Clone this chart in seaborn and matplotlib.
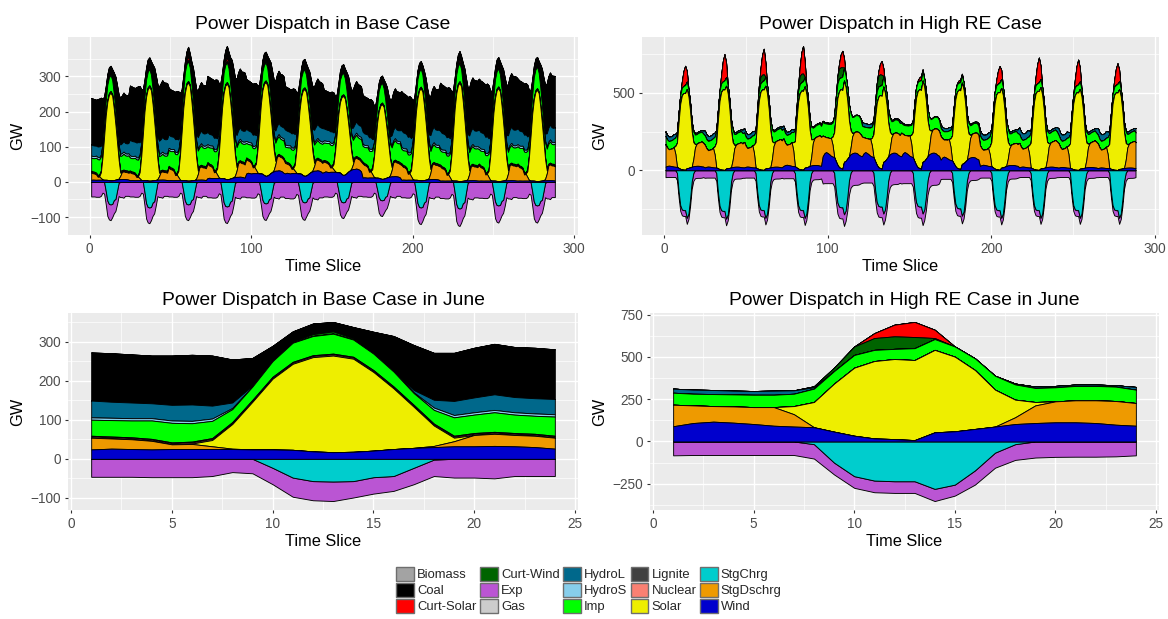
import numpy as np
import pandas as pd
import matplotlib
matplotlib.use("Agg")
import matplotlib.pyplot as plt
from matplotlib.patches import Patch
from matplotlib.ticker import FixedLocator
import seaborn as sns

# ---------------------------------------------------------------- categories
technologies = ["Biomass", "Coal", "Curt-Solar", "Curt-Wind", "Exp", "Gas",
                "HydroL", "HydroS", "Imp", "Lignite", "Nuclear", "Solar",
                "StgChrg", "StgDschrg", "Wind"]
tech_colors = ["#A3A3A3", "#000000", "#FF0000", "#006400", "#BA55D3", "#CCCCCC",
               "#00688B", "#87CEEB", "#00FF00", "#404040", "#FA8072", "#EEEE00",
               "#00CDCD", "#EE9A00", "#0000CD"]

hours = list(range(1, 25))

# ------------------------------------------------ Base case, June (GW by hour)
base_wind = [24, 26, 25, 24, 25, 25, 25, 25, 24, 24, 23, 19, 17, 18, 21, 25, 28, 30, 32, 32, 33, 32, 30, 26]
base_stgdschrg = [30, 26, 25, 22, 12, 13, 7, 1, 0, 0, 0, 0, 0, 0, 0, 0, 0, 3, 13, 29, 31, 29, 29, 28]
base_solar = [0, 0, 0, 0, 0, 1, 16, 63, 122, 181, 220, 241, 247, 238, 201, 155, 105, 52, 9, 0, 0, 0, 0, 0]
base_nuclear = [3, 3, 3, 3, 3, 3, 3, 3, 3, 3, 3, 3, 3, 3, 3, 3, 3, 3, 3, 3, 3, 3, 3, 3]
base_lignite = [2, 2, 2, 2, 2, 2, 2, 2, 2, 2, 2, 2, 2, 2, 2, 2, 2, 2, 2, 2, 2, 2, 2, 2]
base_imp = [41, 42, 43, 47, 50, 47, 44, 33, 34, 40, 49, 49, 51, 44, 42, 38, 30, 35, 47, 47, 50, 47, 46, 49]
base_hydros = [6, 6, 6, 6, 6, 6, 6, 3, 0, 0, 0, 0, 0, 0, 0, 0, 2, 6, 6, 6, 6, 6, 6, 6]
base_hydrol = [43, 41, 40, 38, 40, 42, 33, 14, 2, 0, 0, 0, 0, 0, 0, 0, 6, 20, 36, 38, 40, 39, 39, 39]
base_curt_wind = [0, 0, 0, 0, 0, 0, 0, 0, 0, 0, 2, 5, 6, 3, 0, 0, 0, 0, 0, 0, 0, 0, 0, 0]
base_curt_solar = [0, 0, 0, 0, 0, 0, 0, 0, 0, 0, 0, 0, 0, 0, 0, 0, 0, 0, 0, 0, 0, 0, 0, 0]
base_coal = [123, 124, 123, 122, 126, 127, 128, 110, 71, 39, 27, 27, 24, 29, 56, 91, 115, 120, 123, 127, 129, 128, 129, 127]
base_exp = [-46, -46, -46, -47, -47, -47, -44, -34, -37, -42, -49, -49, -50, -42, -42, -38, -42, -42, -48, -48, -50, -44, -44, -44]
base_stgchrg = [0, 0, 0, 0, 0, 0, 0, 0, 0, -23, -48, -57, -58, -57, -47, -44, -23, -2, 0, 0, 0, 0, 0, 0]

# midday solar curtailment on a typical spring / autumn day, Base case
base_curt_solar_day = [0, 0, 0, 0, 0, 0, 0, 0, 0, 0, 0, 3, 8, 5, 0, 0, 0, 0, 0, 0, 0, 0, 0, 0]

# --------------------------------------------- High RE case, June (GW by hour)
re_wind = [90, 109, 117, 111, 103, 93, 88, 84, 58, 34, 18, 14, 8, 54, 60, 74, 88, 103, 109, 113, 113, 109, 99, 93]
re_stgdschrg = [127, 104, 92, 96, 100, 110, 73, 0, 0, 0, 0, 0, 0, 0, 0, 0, 0, 40, 104, 124, 130, 134, 140, 134]
re_solar = [0, 0, 0, 0, 0, 0, 48, 149, 284, 402, 457, 473, 473, 487, 441, 348, 218, 104, 20, 0, 0, 0, 0, 0]
re_imp = [71, 69, 71, 71, 73, 73, 73, 79, 74, 75, 66, 60, 70, 64, 60, 69, 82, 90, 83, 83, 85, 85, 85, 79]
re_hydrol = [24, 24, 24, 22, 22, 24, 20, 8, 0, 0, 0, 0, 0, 0, 0, 0, 0, 5, 8, 8, 8, 8, 8, 16]
re_curt_wind = [0, 0, 0, 0, 0, 0, 0, 6, 20, 50, 70, 74, 66, 6, 0, 0, 0, 0, 0, 0, 0, 0, 0, 0]
re_curt_solar = [0, 0, 0, 0, 0, 0, 0, 0, 0, 0, 29, 69, 89, 49, 0, 0, 0, 0, 0, 0, 0, 0, 0, 0]
re_exp = [-82, -80, -80, -80, -80, -80, -80, -85, -70, -69, -69, -69, -69, -72, -65, -84, -89, -93, -95, -91, -90, -90, -88, -82]
re_stgchrg = [0, 0, 0, 0, 0, 0, 0, -16, -125, -205, -231, -235, -235, -280, -255, -171, -66, -16, 0, 0, 0, 0, 0, 0]

# ------------------------------ month-to-month level relative to June (Jan..Dec)
base_month_solar = [1.01, 1.08, 1.13, 1.10, 1.08, 1.00, 0.91, 0.86, 1.06, 1.13, 1.07, 1.05]
base_month_coal = [1.07, 1.25, 1.07, 1.30, 1.15, 1.00, 0.89, 0.85, 0.90, 1.11, 1.18, 1.15]
base_month_imp = [0.90, 0.90, 1.10, 1.10, 1.00, 1.00, 1.20, 1.10, 1.00, 1.00, 1.00, 1.20]
base_month_hydrol = [0.75, 1.05, 0.90, 0.80, 0.80, 1.00, 0.80, 0.80, 1.10, 1.15, 1.15, 1.05]
base_month_stgdschrg = [0.70, 0.75, 1.20, 1.35, 1.35, 1.00, 1.00, 1.35, 1.40, 1.35, 1.45, 1.45]
base_month_wind = [0.25, 0.20, 0.20, 0.45, 1.00, 1.00, 1.15, 0.50, 0.25, 0.15, 0.15, 0.15]
base_month_exp = [0.90, 0.90, 0.90, 0.95, 0.95, 1.00, 0.90, 0.90, 0.95, 1.00, 0.98, 0.98]
base_month_stgchrg = [1.10, 1.25, 1.10, 1.20, 1.05, 1.00, 1.00, 0.90, 1.25, 1.30, 1.15, 1.15]
base_month_curt_wind = [0.0, 0.0, 0.5, 0.5, 0.5, 1.0, 0.5, 0.0, 0.0, 0.0, 0.0, 0.0]
base_month_curt_solar = [0.0, 0.4, 1.5, 1.5, 0.0, 0.0, 0.0, 0.0, 0.0, 1.0, 0.5, 0.0]

re_month_solar = [1.05, 1.10, 1.10, 1.08, 1.08, 1.00, 1.08, 1.08, 1.06, 1.08, 1.06, 1.06]
re_month_curt_solar = [1.40, 1.90, 1.85, 2.00, 1.20, 1.00, 0.30, 0.20, 1.20, 1.80, 1.80, 1.50]
re_month_curt_wind = [0.0, 0.0, 0.60, 0.75, 0.90, 1.00, 0.0, 0.0, 0.0, 0.0, 0.0, 0.0]
re_month_imp = [0.75, 0.85, 0.85, 0.90, 1.25, 1.00, 0.90, 0.75, 0.90, 0.80, 0.75, 0.80]
re_month_stgdschrg = [1.15, 1.15, 1.30, 1.40, 1.05, 1.00, 1.20, 1.20, 1.05, 1.25, 1.25, 1.25]
re_month_wind = [0.25, 0.20, 0.20, 0.30, 1.00, 1.00, 1.00, 0.75, 0.30, 0.20, 0.18, 0.15]
re_month_hydrol = [1.20, 1.30, 1.20, 0.80, 0.30, 1.00, 0.30, 0.90, 1.40, 1.80, 1.70, 1.80]
re_month_exp = [0.55, 0.60, 0.60, 0.65, 1.05, 1.00, 1.05, 0.70, 0.60, 0.55, 0.55, 0.55]
re_month_stgchrg = [1.10, 1.12, 1.10, 1.10, 1.02, 1.00, 1.00, 1.05, 1.10, 1.10, 1.10, 1.10]

# ------------------------------------------------------------- data tables
zeros = [0] * 24

base_june = pd.DataFrame({
    "Biomass": zeros, "Coal": base_coal, "Curt-Solar": base_curt_solar,
    "Curt-Wind": base_curt_wind, "Exp": base_exp, "Gas": zeros,
    "HydroL": base_hydrol, "HydroS": base_hydros, "Imp": base_imp,
    "Lignite": base_lignite, "Nuclear": base_nuclear, "Solar": base_solar,
    "StgChrg": base_stgchrg, "StgDschrg": base_stgdschrg, "Wind": base_wind,
}, index=hours)

re_june = pd.DataFrame({
    "Biomass": zeros, "Coal": zeros, "Curt-Solar": re_curt_solar,
    "Curt-Wind": re_curt_wind, "Exp": re_exp, "Gas": zeros,
    "HydroL": re_hydrol, "HydroS": zeros, "Imp": re_imp,
    "Lignite": zeros, "Nuclear": zeros, "Solar": re_solar,
    "StgChrg": re_stgchrg, "StgDschrg": re_stgdschrg, "Wind": re_wind,
}, index=hours)

base_months = {"Solar": base_month_solar, "Coal": base_month_coal, "Imp": base_month_imp,
               "HydroL": base_month_hydrol, "StgDschrg": base_month_stgdschrg,
               "Wind": base_month_wind, "Exp": base_month_exp, "StgChrg": base_month_stgchrg,
               "Curt-Wind": base_month_curt_wind, "Curt-Solar": base_month_curt_solar}
re_months = {"Solar": re_month_solar, "Curt-Solar": re_month_curt_solar,
             "Curt-Wind": re_month_curt_wind, "Imp": re_month_imp,
             "StgDschrg": re_month_stgdschrg, "Wind": re_month_wind,
             "HydroL": re_month_hydrol, "Exp": re_month_exp, "StgChrg": re_month_stgchrg}

slices = np.arange(1, 24 * 12 + 1)


def year_table(june, month_levels, day_shapes):
    """Twelve representative days (one per month) laid end to end: 288 time slices."""
    cols = {}
    for tech in technologies:
        day = np.asarray(day_shapes.get(tech, june[tech].values), float)
        level = np.asarray(month_levels.get(tech, [1.0] * 12), float)
        cols[tech] = np.outer(level, day).ravel()
    return pd.DataFrame(cols, index=slices)


base_year = year_table(base_june, base_months, {"Curt-Solar": base_curt_solar_day})
re_year = year_table(re_june, re_months, {})

# ------------------------------------------------------------------ styling
sns.set_theme(style="darkgrid", rc={
    "axes.facecolor": "#EBEBEB",
    "grid.color": "white",
    "axes.edgecolor": "#EBEBEB",
    "axes.linewidth": 0,
    "xtick.bottom": True, "ytick.left": True,
    "xtick.color": "#333333", "ytick.color": "#333333",
    "xtick.labelcolor": "#4D4D4D", "ytick.labelcolor": "#4D4D4D",
    "xtick.major.size": 2.4, "ytick.major.size": 2.4,
    "xtick.major.width": 0.8, "ytick.major.width": 0.8,
    "xtick.major.pad": 2.5, "ytick.major.pad": 2.5,
    "axes.unicode_minus": True,
})
plt.rcParams["font.family"] = ["Liberation Sans", "DejaVu Sans"]

W, H = 1168, 619
fig = plt.figure(figsize=(W / 100, H / 100), dpi=100)
fig.patch.set_facecolor("white")


def panel(left, top, right, bottom):
    return fig.add_axes([left / W, 1 - bottom / H, (right - left) / W, (bottom - top) / H])


color_of = dict(zip(technologies, tech_colors))


def draw_dispatch(ax, table, title, x_major, x_minor, y_major, y_minor):
    x = table.index.values.astype(float)
    up = np.zeros(len(x))
    down = np.zeros(len(x))
    bands = {}
    # first category ends up on the outside of the stack, last next to zero
    for tech in reversed(technologies):
        v = table[tech].values.astype(float)
        if (v <= 0).all() and (v < 0).any():
            lo, hi = down + v, down.copy()
            down = lo
        else:
            lo, hi = up.copy(), up + v
            up = hi
        bands[tech] = (lo, hi)
    for tech in technologies:
        lo, hi = bands[tech]
        ax.fill_between(x, lo, hi, facecolor=color_of[tech], edgecolor="black",
                        linewidth=0.65, zorder=3)
    ax.margins(x=0.05, y=0.05)
    ax.xaxis.set_major_locator(FixedLocator(x_major))
    ax.xaxis.set_minor_locator(FixedLocator(x_minor))
    ax.yaxis.set_major_locator(FixedLocator(y_major))
    ax.yaxis.set_minor_locator(FixedLocator(y_minor))
    ax.grid(which="major", color="white", linewidth=1.0)
    ax.grid(which="minor", color="white", linewidth=0.5)
    ax.tick_params(which="minor", length=0)
    ax.tick_params(labelsize=9.8)
    ax.set_axisbelow(True)
    for s in ax.spines.values():
        s.set_visible(False)
    ax.set_title(title, fontsize=13.9, color="black", pad=6)
    ax.set_xlabel("Time Slice", fontsize=11.8, color="black", labelpad=2)
    ax.set_ylabel("GW", fontsize=11.8, color="black", labelpad=4)


ax_tl = panel(68, 37, 578, 235)
ax_tr = panel(642, 37, 1159, 235)
ax_bl = panel(68, 313, 578, 510)
ax_br = panel(650, 313, 1159, 510)

year_major = [0, 100, 200, 300]
year_minor = [-50, 50, 150, 250, 350]
day_major = [0, 5, 10, 15, 20, 25]
day_minor = [-2.5, 2.5, 7.5, 12.5, 17.5, 22.5, 27.5]

draw_dispatch(ax_tl, base_year, "Power Dispatch in Base Case",
              year_major, year_minor, [-100, 0, 100, 200, 300],
              [-150, -50, 50, 150, 250, 350, 450])
draw_dispatch(ax_tr, re_year, "Power Dispatch in High RE Case",
              year_major, year_minor, [0, 500], [-750, -250, 250, 750, 1250])
draw_dispatch(ax_bl, base_june, "Power Dispatch in Base Case in June",
              day_major, day_minor, [-100, 0, 100, 200, 300],
              [-150, -50, 50, 150, 250, 350, 450])
draw_dispatch(ax_br, re_june, "Power Dispatch in High RE Case in June",
              day_major, day_minor, [-250, 0, 250, 500, 750],
              [-375, -125, 125, 375, 625, 875])

handles = [Patch(facecolor=c, edgecolor="#6E6E6E", linewidth=1.0) for c in tech_colors]
fig.legend(handles, technologies, ncol=5, loc="center",
           bbox_to_anchor=(589 / W, 1 - 590 / H), frameon=False, fontsize=9.4,
           handlelength=1.36, handleheight=1.36, handletextpad=0.25,
           columnspacing=0.25, labelspacing=0.1, borderpad=0.0,
           borderaxespad=0.0)

fig.savefig("out.png", dpi=100)
